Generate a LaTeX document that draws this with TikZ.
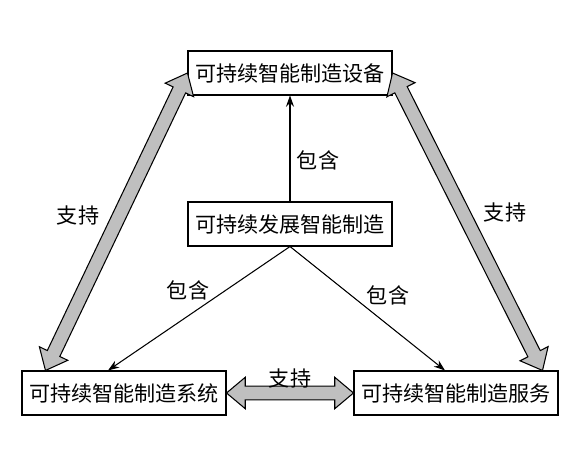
\documentclass[tikz,border=0pt]{standalone}
\usepackage{fontspec}
\setmainfont{Noto Sans CJK SC}
\usetikzlibrary{arrows.meta,calc,shapes.arrows}

\begin{document}
\begin{tikzpicture}[
  part/.style={rectangle, draw, line width=0.75pt, minimum width=5.1cm, minimum height=1.1cm, inner xsep=0.1cm, font=\fontsize{15}{18}\selectfont, align=center},
  tag/.style={font=\fontsize{15}{18}\selectfont, inner sep=1pt},
  contain/.style={-{Stealth[length=2.8mm, width=2mm]}, line width=0.75pt},
  supportarrow/.style={double arrow, draw, line width=0.75pt, fill=black!25, inner xsep=0pt, inner ysep=0.16cm, double arrow head extend=0.22cm, double arrow tip angle=80, minimum width=0pt}
]
\useasboundingbox (0,0) rectangle (14.4,11.675);

% Four boxes
\node[part] (equip) at (7.25,9.85) {可持续智能制造设备};
\node[part] (core) at (7.25,6.075) {可持续发展智能制造};
\node[part] (system) at (3.1,1.85) {可持续智能制造系统};
\node[part] (service) at (11.4,1.85) {可持续智能制造服务};

% Contain arrows from the core
\draw[contain] (core.north) -- (equip.south);
\draw[contain] (core.south) -- ([xshift=-0.4cm]system.north);
\draw[contain] (core.south) -- ([xshift=-0.275cm]service.north);

% Support arrows (wide, double headed)
\path let \p1=($([xshift=0.6cm]system.north west)-(equip.west)$), \n1={veclen(\x1,\y1)}, \n2={atan2(\y1,\x1)} in
  node[supportarrow, minimum height=\n1, rotate=\n2] (left-support) at ($(equip.west)!0.5!([xshift=0.6cm]system.north west)$) {};
\path let \p1=($([xshift=-0.4cm]service.north east)-(equip.east)$), \n1={veclen(\x1,\y1)}, \n2={atan2(\y1,\x1)} in
  node[supportarrow, minimum height=\n1, rotate=\n2] (right-support) at ($(equip.east)!0.5!([xshift=-0.4cm]service.north east)$) {};
\path let \p1=($(service.west)-(system.east)$), \n1={veclen(\x1,\y1)} in
  node[supportarrow, minimum height=\n1] (bottom-support) at ($(system.east)!0.5!(service.west)$) {};

% Labels
\node[tag] (tag-up) at (7.95,7.675) {包含};
\node[tag] (tag-left) at (4.7,4.425) {包含};
\node[tag] (tag-right) at (9.7,4.3) {包含};
\node[tag] (tag-sl) at (1.95,6.3) {支持};
\node[tag] (tag-sr) at (12.625,6.375) {支持};
\node[tag] (tag-sb) at (7.25,2.225) {支持};

\end{tikzpicture}
\end{document}
